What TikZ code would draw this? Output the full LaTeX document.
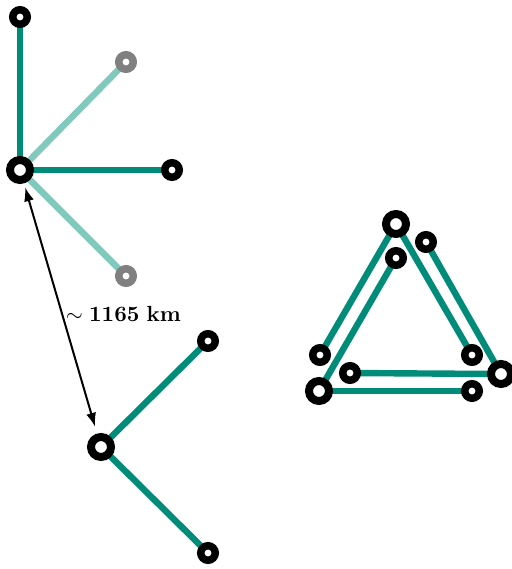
\documentclass[tikz,border=0pt]{standalone}
\usepackage{amsmath,amssymb}
\usepackage{tikz}
\usetikzlibrary{arrows.meta,backgrounds}
\definecolor{Teal}{HTML}{008C78}
\definecolor{PaleTeal}{HTML}{80C9BC}
\definecolor{Grey}{HTML}{808080}
\tikzset{
  hub/.style={circle,draw=black,fill=white,line width=4pt,minimum size=10pt,inner sep=0pt},
  leaf/.style={circle,draw=black,fill=white,line width=3.75pt,minimum size=7.25pt,inner sep=0pt},
  ghost/.style={leaf,draw=Grey},
  link/.style={draw=Teal,line width=3.2pt},
  faint/.style={draw=PaleTeal,line width=3.2pt},
  dist/.style={{Latex[length=7pt,width=5pt]}-{Latex[length=7pt,width=5pt]},line width=1pt},
}

\begin{document}
\begin{tikzpicture}[x=.5pt,y=-.5pt]
        \useasboundingbox (0,0) rectangle (511,569);
        % star in the upper left
        \node[hub] (c) at (20,170) {};
        \node[leaf] (n) at (20,17) {};
        \node[ghost] (ne) at (126,62) {};
        \node[leaf] (e) at (172,170) {};
        \node[ghost] (se) at (126,276) {};
        % star in the lower left
        \node[hub] (d) at (101,447) {};
        \node[leaf] (d1) at (208,341) {};
        \node[leaf] (d2) at (208,553) {};
        % triangle
        \node[hub] (t) at (396,224) {};
        \node[hub] (l) at (319,391) {};
        \node[hub] (r) at (501,374) {};
        \node[leaf] (t1) at (426,242) {};
        \node[leaf] (t2) at (396,258) {};
        \node[leaf] (l1) at (320,355) {};
        \node[leaf] (l2) at (350,373) {};
        \node[leaf] (r1) at (472,355) {};
        \node[leaf] (r2) at (472,391) {};
        \begin{scope}[on background layer]
          \draw[faint] (c.center) -- (ne.center);
          \draw[faint] (c.center) -- (se.center);
          \draw[link] (c.center) -- (n.center);
          \draw[link] (c.center) -- (e.center);
          \draw[link] (d.center) -- (d1.center);
          \draw[link] (d.center) -- (d2.center);
          \draw[link] (t.center) -- (l1.center);
          \draw[link] (t2.center) -- (l.center);
          \draw[link] (t.center) -- (r1.center);
          \draw[link] (t1.center) -- (r.center);
          \draw[link] (l2.center) -- (r.center);
          \draw[link] (l.center) -- (r2.center);
        \end{scope}
        \draw[dist,shorten <=2pt,shorten >=3.5pt] (c) -- (d)
          node[pos=.52,anchor=west,inner sep=1.5pt,font=\fontsize{11}{13}\selectfont] (km) {$\sim\mathbf{1165\ km}$};
      \end{tikzpicture}
\end{document}
